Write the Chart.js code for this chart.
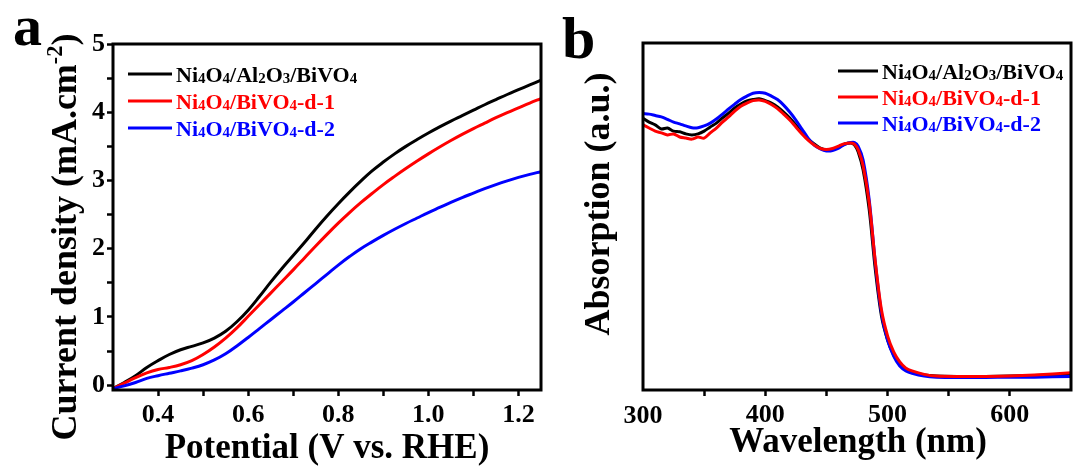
<!DOCTYPE html>
<html><head><meta charset="utf-8">
<script src="https://cdn.jsdelivr.net/npm/chart.js@4.4.1/dist/chart.umd.min.js"></script>
<style>
html,body{margin:0;padding:0;background:#fff;width:1075px;height:468px;overflow:hidden}
canvas{position:absolute;top:0}
#ca{left:0}
#cb{left:550px}
</style></head><body>
<canvas id="ca" width="550" height="468"></canvas>
<canvas id="cb" width="525" height="468"></canvas>
<script>
// ---------- data ----------
const seriesNames = ['Ni4O4/Al2O3/BiVO4', 'Ni4O4/BiVO4-d-1', 'Ni4O4/BiVO4-d-2'];
const seriesColors = ['#000000', '#ff0000', '#0000ff'];

// panel a : LSV curves
const potentialV = [0.30,0.325,0.35,0.375,0.40,0.425,0.45,0.475,0.50,0.525,0.55,0.575,0.60,0.625,0.65,0.675,0.70,0.725,0.75,0.775,0.80,0.825,0.85,0.875,0.90,0.925,0.95,0.975,1.00,1.025,1.05,1.075,1.10,1.125,1.15,1.175,1.20,1.225,1.25];
const jBlack = [-0.05,0.04,0.14,0.26,0.36,0.45,0.52,0.57,0.62,0.69,0.79,0.93,1.10,1.30,1.51,1.71,1.90,2.09,2.29,2.48,2.66,2.83,2.99,3.14,3.27,3.39,3.50,3.60,3.695,3.785,3.87,3.95,4.03,4.11,4.185,4.26,4.33,4.40,4.47];
const jRed   = [-0.05,0.03,0.11,0.18,0.23,0.26,0.30,0.36,0.45,0.56,0.69,0.84,1.01,1.18,1.35,1.52,1.69,1.865,2.04,2.21,2.375,2.53,2.675,2.81,2.94,3.06,3.175,3.285,3.39,3.49,3.585,3.675,3.76,3.84,3.92,3.995,4.065,4.135,4.20];
const jBlue  = [-0.05,-0.01,0.04,0.10,0.14,0.175,0.21,0.25,0.30,0.37,0.46,0.575,0.70,0.83,0.96,1.09,1.22,1.355,1.49,1.625,1.76,1.885,2.00,2.10,2.195,2.285,2.37,2.45,2.53,2.605,2.68,2.75,2.815,2.88,2.94,2.995,3.045,3.09,3.13];
const potentialTicks = [0.4,0.5,0.6,0.7,0.8,0.9,1.0,1.1,1.2];
const potentialTickLabels = ['0.4','','0.6','','0.8','','1.0','','1.2'];
const currentTicks = [0,0.5,1,1.5,2,2.5,3,3.5,4,4.5,5];
const currentTickLabels = ['0','','1','','2','','3','','4','','5'];

// panel b : UV-vis absorption (arbitrary units)
const wavelengthNm = [300,305,310,315,320,325,330,335,340,345,350,355,360,365,370,375,380,385,390,395,400,405,410,415,420,425,430,435,440,445,450,455,460,465,470,473,476,480,485,490,495,500,505,510,515,520,530,540,560,580,600,620,650];
const absBlack = [0.783,0.772,0.764,0.752,0.755,0.746,0.744,0.738,0.735,0.738,0.746,0.758,0.769,0.784,0.798,0.813,0.824,0.833,0.837,0.839,0.834,0.827,0.816,0.801,0.784,0.764,0.741,0.723,0.709,0.697,0.692,0.693,0.700,0.709,0.712,0.706,0.686,0.634,0.519,0.346,0.213,0.144,0.101,0.075,0.061,0.052,0.043,0.040,0.039,0.039,0.040,0.042,0.045];
const absRed   = [0.764,0.755,0.746,0.741,0.735,0.738,0.729,0.726,0.723,0.729,0.726,0.741,0.755,0.772,0.787,0.804,0.818,0.827,0.834,0.836,0.832,0.823,0.811,0.795,0.778,0.758,0.738,0.720,0.706,0.696,0.693,0.696,0.703,0.710,0.712,0.708,0.692,0.646,0.539,0.369,0.231,0.156,0.110,0.081,0.063,0.055,0.045,0.040,0.039,0.039,0.040,0.043,0.050];
const absBlue  = [0.797,0.795,0.791,0.787,0.780,0.772,0.767,0.761,0.756,0.756,0.761,0.769,0.781,0.795,0.810,0.824,0.837,0.847,0.855,0.857,0.855,0.847,0.837,0.821,0.801,0.778,0.752,0.726,0.706,0.695,0.689,0.690,0.697,0.708,0.713,0.713,0.702,0.663,0.548,0.366,0.222,0.144,0.098,0.069,0.055,0.048,0.040,0.037,0.036,0.036,0.037,0.037,0.039];
const wavelengthTicks = [350,400,450,500,550,600];
const wavelengthTickLabels = ['','400','','500','','600'];
const wavelengthFirstLabel = '300';

// ---------- helpers ----------
const FONT = '"Liberation Serif","Times New Roman",serif';
function legendParts(text){
  const parts = [];
  for (let i = 0; i < text.length; i++) {
    const c = text[i];
    const sub = /\d/.test(c) && i > 0 && /[A-Za-z]/.test(text[i-1]);
    const m = sub ? 'sub' : 'n';
    if (parts.length && parts[parts.length-1].m === m) parts[parts.length-1].t += c;
    else parts.push({t:c, m});
  }
  return parts;
}
function drawRich(ctx, parts, x, y, size, color, align){
  const sz = p => p.m === 'n' ? size : (p.m === 'sub' ? size*0.68 : size*0.62);
  let w = 0;
  parts.forEach(p => { ctx.font = 'bold ' + sz(p) + 'px ' + FONT; p.w = ctx.measureText(p.t).width; w += p.w; });
  let cx = align === 'center' ? x - w/2 : x;
  ctx.fillStyle = color; ctx.textBaseline = 'alphabetic'; ctx.textAlign = 'left';
  parts.forEach(p => {
    ctx.font = 'bold ' + sz(p) + 'px ' + FONT;
    const dy = p.m === 'sub' ? size*0.08 : (p.m === 'sup' ? -size*0.40 : 0);
    ctx.fillText(p.t, cx, y + dy);
    cx += p.w;
  });
}
function drawLegend(ctx, x0, y0, dy, lineLen, size){
  seriesNames.forEach((name, i) => {
    const y = y0 + i*dy;
    ctx.save();
    ctx.strokeStyle = seriesColors[i]; ctx.lineWidth = 3;
    ctx.beginPath(); ctx.moveTo(x0, y); ctx.lineTo(x0 + lineLen, y); ctx.stroke();
    drawRich(ctx, legendParts(name), x0 + lineLen + 4, y + 7.5, size, seriesColors[i], 'left');
    ctx.restore();
  });
}
const framePlugin = {
  id: 'frame',
  afterDatasetsDraw(chart){
    const {ctx, chartArea: a} = chart;
    ctx.save(); ctx.lineWidth = 3; ctx.strokeStyle = '#000';
    ctx.strokeRect(a.left, a.top, a.right - a.left, a.bottom - a.top);
    ctx.restore();
  }
};
function mk(xs, ys){ return xs.map((x, i) => ({x, y: ys[i]})); }
function ds(xs, ys, idx, order, tension){
  return {label: seriesNames[idx], data: mk(xs, ys), borderColor: seriesColors[idx], borderWidth: 3,
          pointRadius: 0, tension: tension, fill: false, order};
}
const tickFont = {family: FONT, size: 26, weight: 'bold'};
const gridOpts = {display: true, drawOnChartArea: false, drawTicks: true, tickLength: 6, tickWidth: 2.5, tickColor: '#000'};

// ---------- panel a ----------
new Chart(document.getElementById('ca'), {
  type: 'line',
  data: {datasets: [ds(potentialV, jBlack, 0, 2, 0.4), ds(potentialV, jRed, 1, 1, 0.4), ds(potentialV, jBlue, 2, 0, 0.4)]},
  options: {
    responsive: false, animation: false, devicePixelRatio: 1,
    layout: {padding: {left: 0, top: 44, right: 9, bottom: 0}},
    plugins: {legend: {display: false}, tooltip: {enabled: false}},
    scales: {
      x: {type: 'linear', min: 0.3, max: 1.25,
          afterBuildTicks: s => { s.ticks = potentialTicks.map(v => ({value: v})); },
          afterFit: s => { s.height = 78; },
          ticks: {autoSkip: false, maxRotation: 0, color: '#000', font: tickFont, padding: 4,
                  callback: (v, i) => potentialTickLabels[i]},
          grid: gridOpts, border: {display: false}},
      y: {type: 'linear', min: -0.07, max: 5,
          afterBuildTicks: s => { s.ticks = currentTicks.map(v => ({value: v})); },
          afterFit: s => { s.width = 113; },
          ticks: {autoSkip: false, color: '#000', font: tickFont, padding: 2,
                  callback: (v, i) => currentTickLabels[i]},
          grid: gridOpts, border: {display: false}}
    }
  },
  plugins: [framePlugin, {
    id: 'textA',
    afterDraw(chart){
      const ctx = chart.ctx;
      ctx.save();
      drawRich(ctx, [{t:'a', m:'n'}], 13, 45, 58, '#000', 'left');
      drawRich(ctx, [{t:'Potential (V vs. RHE)', m:'n'}], 327, 458, 35, '#000', 'center');
      ctx.translate(76, 237); ctx.rotate(-Math.PI/2);
      drawRich(ctx, [{t:'Current density (mA.cm', m:'n'}, {t:'-2', m:'sup'}, {t:')', m:'n'}], 0, 0, 36, '#000', 'center');
      ctx.restore();
      drawLegend(ctx, 128, 74, 27, 44, 22);
    }
  }]
});

// ---------- panel b ----------
new Chart(document.getElementById('cb'), {
  type: 'line',
  data: {datasets: [ds(wavelengthNm, absBlack, 0, 2, 0.3), ds(wavelengthNm, absRed, 1, 0, 0.3), ds(wavelengthNm, absBlue, 2, 1, 0.3)]},
  options: {
    responsive: false, animation: false, devicePixelRatio: 1,
    layout: {padding: {left: 93, top: 43, right: 4, bottom: 0}},
    plugins: {legend: {display: false}, tooltip: {enabled: false}},
    scales: {
      x: {type: 'linear', min: 300, max: 650,
          afterBuildTicks: s => { s.ticks = wavelengthTicks.map(v => ({value: v})); },
          afterFit: s => { s.height = 78; },
          ticks: {autoSkip: false, maxRotation: 0, color: '#000', font: tickFont, padding: 4,
                  callback: (v, i) => wavelengthTickLabels[i]},
          grid: gridOpts, border: {display: false}},
      y: {type: 'linear', min: 0, max: 1, display: false}
    }
  },
  plugins: [framePlugin, {
    id: 'textB',
    afterDraw(chart){
      const ctx = chart.ctx;
      const xs = chart.scales.x;
      ctx.save();
      drawRich(ctx, [{t: wavelengthFirstLabel, m:'n'}], xs.getPixelForValue(300), 423, 26, '#000', 'center');
      drawRich(ctx, [{t:'b', m:'n'}], 12, 58, 60, '#000', 'left');
      drawRich(ctx, [{t:'Wavelength (nm)', m:'n'}], 308, 452, 35, '#000', 'center');
      ctx.translate(59, 204); ctx.rotate(-Math.PI/2);
      drawRich(ctx, [{t:'Absorption (a.u.)', m:'n'}], 0, 0, 36, '#000', 'center');
      ctx.restore();
      drawLegend(ctx, 288, 71, 26, 40, 22);
    }
  }]
});
</script>
</body></html>
